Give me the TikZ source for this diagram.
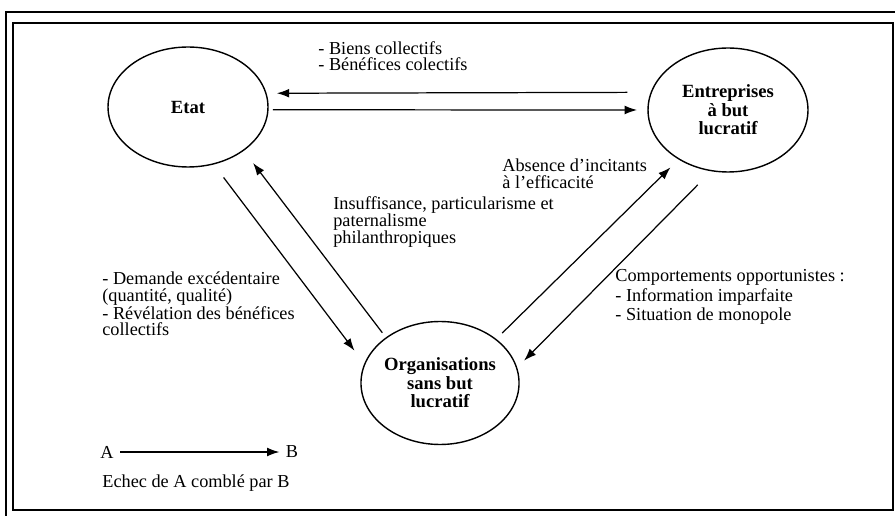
\documentclass[tikz,border=0pt]{standalone}
\usepackage{fontspec}
\setmainfont{Liberation Serif}
\usetikzlibrary{shapes.geometric,arrows.meta}
\begin{document}
\begin{tikzpicture}[x=0.02cm,y=-0.02cm,
  bulle/.style={ellipse,draw,line width=0.8pt,inner sep=0pt,outer sep=0pt,align=center,font=\fontsize{10.6}{10.6}\selectfont\bfseries},
  fleche/.style={line width=0.7pt,-{Latex[length=7pt,width=5pt]}},
  texte/.style={anchor=base west,align=left,inner sep=0pt,font=\fontsize{10.4}{#1}\selectfont},
  texte/.default=9.9]
\useasboundingbox (0,0) rectangle (895,516);
\draw[line width=1.1pt](6,516)--(6,12)--(895,12) (13,23) rectangle (893,510);
\node[bulle,minimum width=3.2cm,minimum height=2.4cm](etat) at (188,107) {Etat};
\node[bulle,minimum width=3.2cm,minimum height=2.48cm](entr) at (728,110) {Entreprises\\à but\\lucratif};
\node[bulle,minimum width=3.12cm,minimum height=2.46cm](osbl) at (440,383) {Organisations\\sans but\\lucratif};
\foreach \a/\b/\c/\d/\s/\t in {etat/-66.7/osbl/166.8/0.34/0.34, osbl/140.4/etat/-38.1/0.13/0.32, osbl/38.1/entr/-135.5/0.18/0.24, entr/-105.5/osbl/11.7/0.40/0.21, entr/167.6/etat/10.2/0.48/0.22, etat/-2.9/entr/180.7/0.10/0.22}{\draw[fleche,shorten <=\s cm,shorten >=\t cm](\a.\b)--(\c.\d);}
\node[texte=9.6](biens) at (318,71) {- Biens collectifs\\- Bénéfices colectifs};
\node[texte=10.2](absence) at (502,189) {Absence d'incitants\\à l'efficacité};
\node[texte](insuff) at (333,244) {Insuffisance, particularisme et\\paternalisme\\philanthropiques};
\node[texte=9.25](demande) at (102,336) {- Demande excédentaire\\(quantité, qualité)\\- Révélation des bénéfices\\collectifs};
\node[texte=11.3](compo) at (615,321) {Comportements opportunistes :\\- Information imparfaite\\- Situation de monopole};
\node[inner sep=3.5pt,font=\fontsize{10.4}{10.4}\selectfont](A) at (107,452) {A};
\node[inner sep=3.5pt,font=\fontsize{10.4}{10.4}\selectfont](B) at (292,452) {B};
\draw[fleche](A)--(B);
\node[texte](echec) at (102,487) {Echec de A comblé par B};
\end{tikzpicture}
\end{document}
